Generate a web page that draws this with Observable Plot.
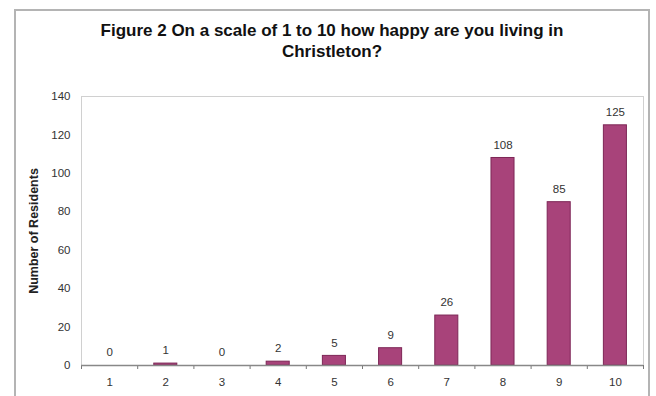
<!DOCTYPE html>
<html>
<head>
<meta charset="utf-8">
<script src="https://cdn.jsdelivr.net/npm/d3@7"></script>
<script src="https://cdn.jsdelivr.net/npm/@observablehq/plot@0.6"></script>
<style>
  body { margin: 0; background: #fff; font-family: "Liberation Sans", Arial, sans-serif; }
  #wrap { position: relative; width: 656px; height: 396px; overflow: hidden; }
  #frame { position: absolute; left: 14px; top: 9px; width: 632px; height: 420px;
           border: 2px solid #b4b4b4; pointer-events: none; }
  #title { position: absolute; left: 14px; top: 20px; width: 636px; text-align: center;
           font-weight: bold; font-size: 17px; line-height: 21px; color: #111; }
  #chart { position: absolute; left: 0; top: 70px; }
  #chart svg text { fill: #333; }
  #chart [aria-label="y-axis label"] text { font-weight: bold; font-size: 12.5px; fill: #222; }
</style>
</head>
<body>
<div id="wrap">
  <div id="title">Figure 2 On a scale of 1 to 10 how happy are you living in<br>Christleton?</div>
  <div id="chart"></div>
  <div id="frame"></div>
</div>
<script>
const categories = [1, 2, 3, 4, 5, 6, 7, 8, 9, 10];
const residents = [0, 1, 0, 2, 5, 9, 26, 108, 85, 125];
const yTicks = [0, 20, 40, 60, 80, 100, 120, 140];
const yLabel = "Number of Residents";

const data = categories.map((c, i) => ({score: c, value: residents[i]}));
const halfBar = 0.205;
const boundaries = d3.range(0, categories.length + 1).map(i => i + 0.5);

const plot = Plot.plot({
  width: 656,
  height: 326,
  marginTop: 26,
  marginBottom: 31,
  marginLeft: 81,
  marginRight: 13,
  style: { fontFamily: "'Liberation Sans', Arial, sans-serif", fontSize: "11px", background: "transparent" },
  x: { type: "linear", domain: [0.5, 10.5] },
  y: { domain: [0, 140] },
  marks: [
    Plot.frame({ stroke: "#d0d0d0" }),
    Plot.axisY({ ticks: yTicks, tickSize: 0, tickPadding: 11, fontSize: 11.5,
                 label: yLabel, labelAnchor: "center", labelArrow: "none", labelOffset: 52 }),
    Plot.axisX({ ticks: boundaries, tickSize: 4, tickFormat: () => "", stroke: "#777", label: null }),
    Plot.axisX({ ticks: categories, tickSize: 0, tickPadding: 12, fontSize: 11.5, tickFormat: d3.format("d"), label: null }),
    Plot.rectY(data, { x1: d => d.score - halfBar, x2: d => d.score + halfBar, y: "value",
                       fill: "#a8437a", stroke: "#7d2656", strokeWidth: 1 }),
    Plot.ruleY([0], { stroke: "#888", strokeWidth: 1.5 }),
    Plot.text(data, { x: "score", y: "value", text: d => String(d.value), dy: -13, fontSize: 11.5 })
  ]
});
document.getElementById("chart").appendChild(plot);
</script>
</body>
</html>
